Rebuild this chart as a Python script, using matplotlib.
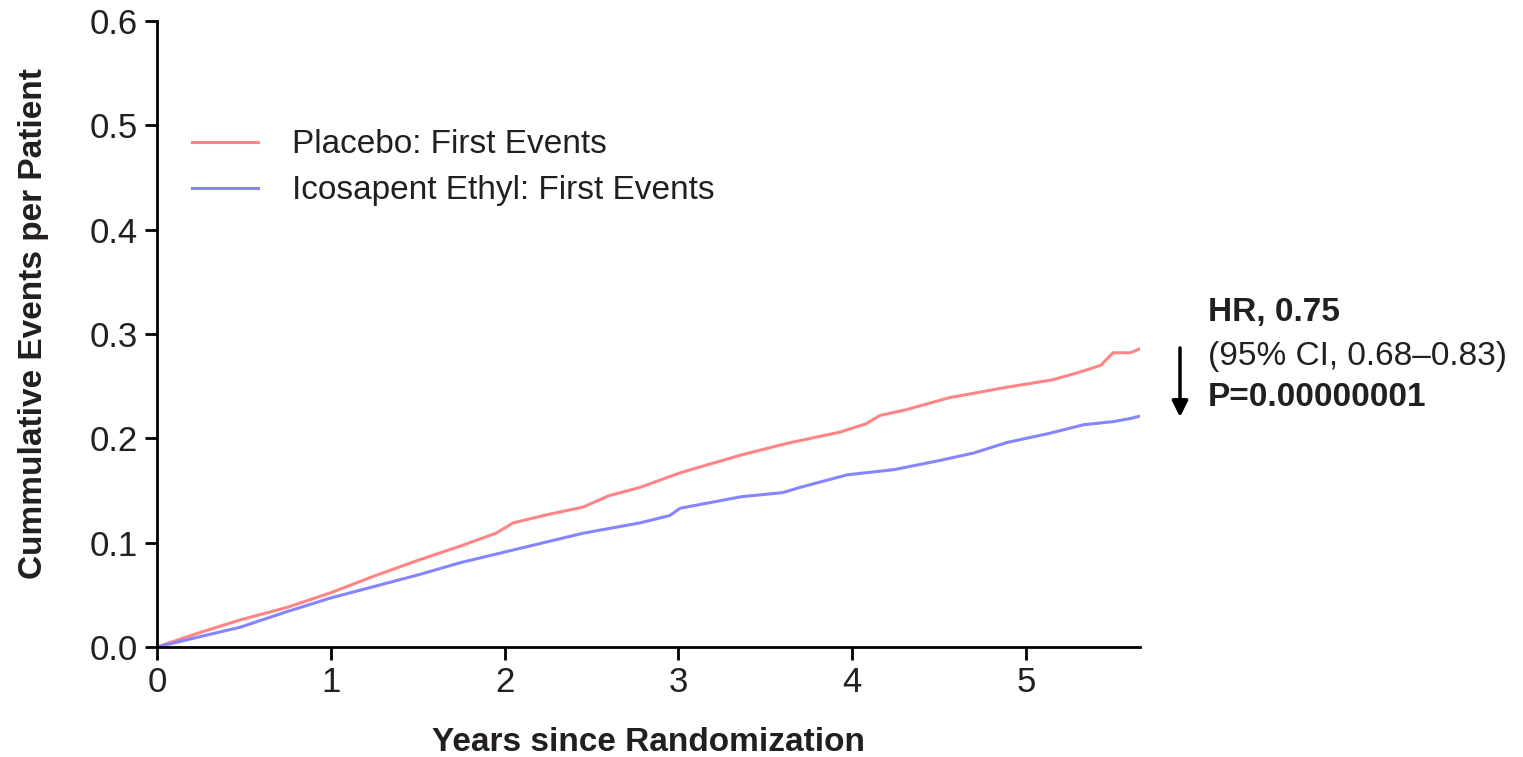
import matplotlib.pyplot as plt

plt.rcParams['font.family'] = ['Liberation Sans', 'DejaVu Sans']

# cumulative first events per patient, read along the follow-up
years_placebo = [0.0, 0.25, 0.48, 0.75, 1.0, 1.25, 1.5, 1.75, 1.95, 2.05, 2.25, 2.45,
                 2.6, 2.78, 3.01, 3.36, 3.62, 3.93, 4.08, 4.16, 4.3, 4.56, 4.89,
                 5.15, 5.3, 5.43, 5.5, 5.6, 5.67]
events_placebo = [0.0, 0.014, 0.026, 0.038, 0.052, 0.068, 0.083, 0.097, 0.109, 0.119,
                  0.127, 0.134, 0.145, 0.153, 0.167, 0.184, 0.195, 0.206, 0.214,
                  0.222, 0.227, 0.239, 0.249, 0.256, 0.263, 0.270, 0.282, 0.282, 0.287]

years_ice = [0.0, 0.25, 0.48, 0.75, 1.0, 1.25, 1.5, 1.75, 2.0, 2.25, 2.45, 2.78, 2.95,
             3.01, 3.36, 3.6, 3.7, 3.97, 4.24, 4.51, 4.7, 4.89, 5.14, 5.33, 5.5, 5.6, 5.67]
events_ice = [0.0, 0.010, 0.019, 0.034, 0.047, 0.058, 0.069, 0.081, 0.091, 0.101,
              0.109, 0.119, 0.126, 0.133, 0.144, 0.148, 0.153, 0.165, 0.170, 0.179,
              0.186, 0.196, 0.205, 0.213, 0.216, 0.219, 0.222]

x_ticks = [0, 1, 2, 3, 4, 5]
y_ticks = [0.0, 0.1, 0.2, 0.3, 0.4, 0.5, 0.6]

fig = plt.figure(figsize=(15.23, 7.57), dpi=100)
ax = fig.add_axes([0.103, 0.1453, 0.6455, 0.827])

ax.plot(years_placebo, events_placebo, color='#ff8585', lw=2.2,
        label='Placebo: First Events')
ax.plot(years_ice, events_ice, color='#8585ff', lw=2.2,
        label='Icosapent Ethyl: First Events')

ax.set_xlim(0, 5.655)
ax.set_ylim(0, 0.6)
ax.set_xticks(x_ticks)
ax.set_yticks(y_ticks)
ax.set_yticklabels([f'{v:.1f}' for v in y_ticks])
ax.tick_params(labelsize=25, width=2, length=9, color='black', labelcolor='#231f20', pad=5)

for side in ['top', 'right']:
    ax.spines[side].set_visible(False)
for side in ['left', 'bottom']:
    ax.spines[side].set_linewidth(2)

ax.set_xlabel('Years since Randomization', fontsize=24, fontweight='bold',
              labelpad=20, color='#231f20')
ax.set_ylabel('Cummulative Events per Patient', fontsize=24, fontweight='bold',
              color='#231f20')
ax.yaxis.set_label_coords(-0.11, 0.516)

ax.legend(loc='upper left', bbox_to_anchor=(0.005, 0.875), frameon=False, fontsize=24,
          handlelength=2.0, handletextpad=1.0, labelspacing=0.45, labelcolor='#231f20')

# hazard ratio note with the arrow to the right of the curves
ax.annotate('', xy=(1180 / 1523, 1 - 417 / 757), xytext=(1180 / 1523, 1 - 348 / 757),
            xycoords='figure fraction', textcoords='figure fraction',
            arrowprops=dict(arrowstyle='-|>', color='black', lw=2.5,
                            mutation_scale=24, shrinkA=0, shrinkB=0))
fig.text(1208 / 1523, 1 - 313 / 757, 'HR, 0.75', fontsize=24, fontweight='bold',
         va='center', color='#231f20')
fig.text(1208 / 1523, 1 - 356 / 757, '(95% CI, 0.68–0.83)', fontsize=24,
         va='center', color='#231f20')
fig.text(1208 / 1523, 1 - 398 / 757, 'P=0.00000001', fontsize=24, fontweight='bold',
         va='center', color='#231f20')

fig.savefig('out.png', dpi=100, facecolor='white')
